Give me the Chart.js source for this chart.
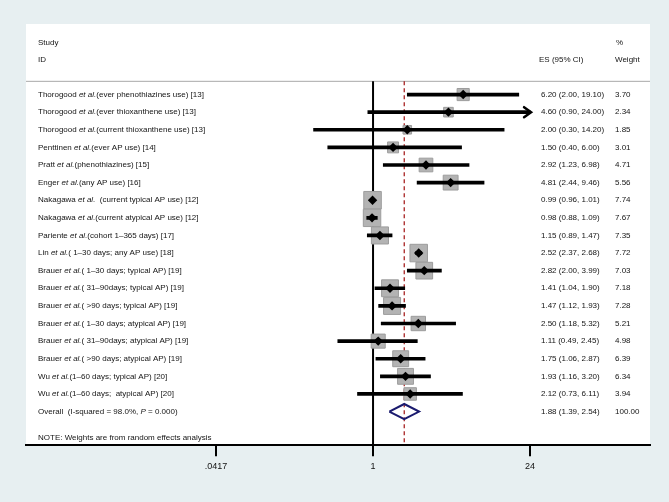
<!DOCTYPE html>
<html>
<head>
<meta charset="utf-8">
<script src="https://cdn.jsdelivr.net/npm/chart.js@4"></script>
<style>
  html, body { margin: 0; padding: 0; background: #e7eff1; }
  #wrap { width: 669px; height: 502px; }
</style>
</head>
<body>
<div id="wrap"><canvas id="forest" width="669" height="502"></canvas></div>
<script>
// ---- data ----
const authors = ["Thorogood", "Thorogood", "Thorogood", "Penttinen", "Pratt", "Enger",
  "Nakagawa", "Nakagawa", "Pariente", "Lin", "Brauer", "Brauer", "Brauer", "Brauer",
  "Brauer", "Brauer", "Wu", "Wu"];
const details = ["(ever phenothiazines use) [13]", "(ever thioxanthene use) [13]",
  "(current thioxanthene use) [13]", "(ever AP use) [14]", "(phenothiazines) [15]",
  "(any AP use) [16]", "  (current typical AP use) [12]", "(current atypical AP use) [12]",
  "(cohort 1–365 days) [17]", "( 1–30 days; any AP use) [18]", "( 1–30 days; typical AP) [19]",
  "( 31–90days; typical AP) [19]", "( >90 days; typical AP) [19]", "( 1–30 days; atypical AP) [19]",
  "( 31–90days; atypical AP) [19]", "( >90 days; atypical AP) [19]", "(1–60 days; typical AP) [20]",
  "(1–60 days;  atypical AP) [20]"];
const esValues = [6.20, 4.60, 2.00, 1.50, 2.92, 4.81, 0.99, 0.98, 1.15, 2.52, 2.82, 1.41, 1.47, 2.50, 1.11, 1.75, 1.93, 2.12];
const ciLower  = [2.00, 0.90, 0.30, 0.40, 1.23, 2.44, 0.96, 0.88, 0.89, 2.37, 2.00, 1.04, 1.12, 1.18, 0.49, 1.06, 1.16, 0.73];
const ciUpper  = [19.10, 24.00, 14.20, 6.00, 6.98, 9.46, 1.01, 1.09, 1.47, 2.68, 3.99, 1.90, 1.93, 5.32, 2.45, 2.87, 3.20, 6.11];
const weights  = [3.70, 2.34, 1.85, 3.01, 4.71, 5.56, 7.74, 7.67, 7.35, 7.72, 7.03, 7.18, 7.28, 5.21, 4.98, 6.39, 6.34, 3.94];
const overallES = 1.88, overallLo = 1.39, overallHi = 2.54, overallWeight = "100.00";
const overallText = [["Overall  (I-squared = 98.0%, ", false], ["P", true], [" = 0.000)", false]];
const tickValues = [1 / 24, 1, 24];
const tickLabels = [".0417", "1", "24"];
const noteText = "NOTE: Weights are from random effects analysis";

// ---- layout helpers ----
const FONT = '"Liberation Sans", Arial, sans-serif';
const rows = authors.map((_, i) => i + 1);
const overallRow = rows.length + 1;
const fmt = v => v.toFixed(2);

function richText(ctx, parts, x, y) {
  let cx = x;
  parts.forEach(([t, italic]) => {
    ctx.font = (italic ? "italic " : "") + "8px " + FONT;
    ctx.fillText(t, cx, y);
    cx += ctx.measureText(t).width;
  });
}

const forestDecor = {
  id: "forestDecor",
  beforeDraw(chart) {
    const { ctx, chartArea: a } = chart;
    ctx.save();
    ctx.fillStyle = "#e7eff1";
    ctx.fillRect(0, 0, chart.width, chart.height);
    ctx.fillStyle = "#ffffff";
    ctx.fillRect(a.left, a.top, a.right - a.left, a.bottom - a.top);
    ctx.restore();
  },
  beforeDatasetsDraw(chart) {
    const { ctx, chartArea: a, scales: { x, y } } = chart;
    const lineY = y.getPixelForValue(0.25);
    ctx.save();
    // header rule
    ctx.strokeStyle = "#a9a9a9";
    ctx.lineWidth = 1;
    ctx.beginPath();
    ctx.moveTo(a.left, lineY); ctx.lineTo(a.right, lineY);
    ctx.stroke();
    // null line
    const x1 = x.getPixelForValue(1);
    ctx.strokeStyle = "#000";
    ctx.lineWidth = 2;
    ctx.beginPath();
    ctx.moveTo(x1, lineY); ctx.lineTo(x1, a.bottom);
    ctx.stroke();
    // overall effect line
    const xo = x.getPixelForValue(overallES);
    ctx.strokeStyle = "#a01010";
    ctx.lineWidth = 1.2;
    ctx.setLineDash([4, 3]);
    ctx.beginPath();
    ctx.moveTo(xo, lineY); ctx.lineTo(xo, a.bottom);
    ctx.stroke();
    ctx.restore();
  },
  afterDatasetsDraw(chart) {
    const { ctx, scales: { x, y } } = chart;
    ctx.save();
    // arrowheads where the CI is cut at the plot limit
    ctx.strokeStyle = "#000";
    ctx.lineWidth = 2.5;
    ctx.lineCap = "round";
    rows.forEach((r, i) => {
      if (ciUpper[i] >= tickValues[2]) {
        const tx = x.getPixelForValue(ciUpper[i]) + 1, ty = y.getPixelForValue(r);
        ctx.beginPath();
        ctx.moveTo(tx - 7, ty - 5);
        ctx.lineTo(tx, ty);
        ctx.lineTo(tx - 7, ty + 5);
        ctx.stroke();
      }
    });
    // text columns
    ctx.fillStyle = "#141414";
    ctx.textBaseline = "middle";
    ctx.textAlign = "left";
    const xLab = 38, xES = 541, xW = 615;
    richText(ctx, [["Study", false]], xLab, y.getPixelForValue(-1.92));
    richText(ctx, [["ID", false]], xLab, y.getPixelForValue(-0.95));
    richText(ctx, [["%", false]], xW + 1, y.getPixelForValue(-1.92));
    richText(ctx, [["ES (95% CI)", false]], xES - 2, y.getPixelForValue(-0.95));
    richText(ctx, [["Weight", false]], xW, y.getPixelForValue(-0.95));
    rows.forEach((r, i) => {
      const py = y.getPixelForValue(r);
      richText(ctx, [[authors[i] + " ", false], ["et al.", true], [details[i], false]], xLab, py);
      richText(ctx, [[`${fmt(esValues[i])} (${fmt(ciLower[i])}, ${fmt(ciUpper[i])})`, false]], xES, py);
      richText(ctx, [[fmt(weights[i]), false]], xW, py);
    });
    const po = y.getPixelForValue(overallRow);
    richText(ctx, overallText, xLab, po);
    richText(ctx, [[`${fmt(overallES)} (${fmt(overallLo)}, ${fmt(overallHi)})`, false]], xES, po);
    richText(ctx, [[overallWeight, false]], xW, po);
    richText(ctx, [[noteText, false]], xLab, y.getPixelForValue(overallRow + 1.5));
    ctx.restore();
  }
};

const overallPoly = [
  { x: overallLo, y: overallRow }, { x: overallES, y: overallRow - 0.43 },
  { x: overallHi, y: overallRow }, { x: overallES, y: overallRow + 0.43 },
  { x: overallLo, y: overallRow }
];

new Chart(document.getElementById("forest"), {
  type: "bar",
  data: {
    datasets: [
      { type: "scatter", label: "Overall", data: overallPoly, showLine: true, fill: false,
        borderColor: "#1b1b6f", borderWidth: 2, pointRadius: 0, order: 0 },
      { type: "scatter", label: "ES", data: rows.map((r, i) => ({ x: esValues[i], y: r })),
        pointStyle: "rectRot", pointRadius: 4.7, backgroundColor: "#000", borderWidth: 0, order: 1 },
      { type: "bar", label: "95% CI", indexAxis: "y", grouped: false,
        data: rows.map((r, i) => ({ x: [ciLower[i], ciUpper[i]], y: r })),
        backgroundColor: "#000", barThickness: 3, borderWidth: 0, order: 2 },
      { type: "scatter", label: "Weight", data: rows.map((r, i) => ({ x: esValues[i], y: r })),
        pointStyle: "rect", pointRadius: c => 6.3 * Math.sqrt(weights[c.dataIndex]) / Math.SQRT2,
        backgroundColor: "#b3b3b3", borderColor: "#9c9c9c", borderWidth: 1, order: 3 }
    ]
  },
  options: {
    responsive: false,
    animation: false,
    devicePixelRatio: 1,
    layout: { padding: { left: 26, right: 19, top: 24, bottom: 25 } },
    plugins: { legend: { display: false }, tooltip: { enabled: false } },
    scales: {
      x: {
        type: "logarithmic",
        min: 0.00089, max: 272, bounds: "data", offset: false,
        afterBuildTicks: s => { s.ticks = tickValues.map(v => ({ value: v })); },
        ticks: { callback: (v, i) => tickLabels[i], autoSkip: false, maxRotation: 0,
          font: { size: 9, family: FONT }, color: "#111", padding: 5 },
        grid: { offset: false, drawOnChartArea: false, drawTicks: true, tickLength: 11, color: "#000", lineWidth: 2 },
        border: { display: true, color: "#000", width: 2 }
      },
      y: { type: "linear", reverse: true, display: false, offset: false,
        grid: { offset: false }, min: -3.006, max: 20.91, bounds: "data" }
    }
  },
  plugins: [forestDecor]
});
</script>
</body>
</html>
